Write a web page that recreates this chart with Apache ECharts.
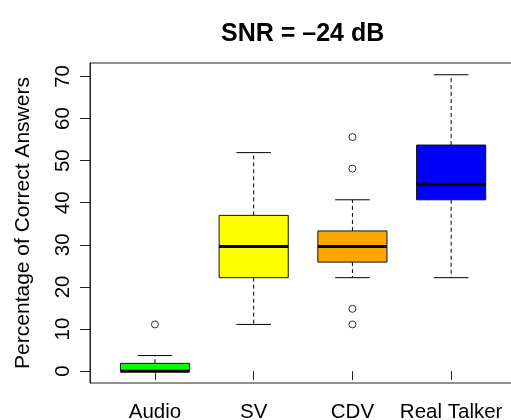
<!DOCTYPE html>
<html>
<head>
<meta charset="utf-8">
<script src="https://cdn.jsdelivr.net/npm/echarts@6/dist/echarts.min.js"></script>
<style>html,body{margin:0;padding:0;background:#fff;}#c{width:511px;height:420px;}</style>
</head>
<body>
<div id="c"></div>
<script>
var categories = ['Audio', 'SV', 'CDV', 'Real Talker'];
var whiskerLow = [0, 11.1, 22.2, 22.2];
var quart1 = [0, 22.2, 25.9, 40.7];
var medians = [0, 29.6, 29.6, 44.4];
var quart3 = [1.85, 37.0, 33.3, 53.7];
var whiskerHigh = [3.7, 51.9, 40.7, 70.4];
var outlierCat = [0, 2, 2, 2, 2];
var outlierVal = [11.1, 55.6, 48.1, 14.8, 11.1];
var yTicks = [0, 10, 20, 30, 40, 50, 60, 70];

var FONT = 'Liberation Sans, Arial, Helvetica, sans-serif';
var boxColors = ['#00FF00', '#FFFF00', '#FFA500', '#0000FF'];

var boxData = categories.map(function (c, i) {
  return [i, whiskerLow[i], quart1[i], medians[i], quart3[i], whiskerHigh[i]];
});
var outData = outlierCat.map(function (c, i) { return [c, outlierVal[i]]; });

var yMin = -2.815, yMax = 73.19;

var chart = echarts.init(document.getElementById('c'), null, {renderer: 'canvas'});
chart.setOption({
  animation: false,
  backgroundColor: '#fff',
  title: {
    text: 'SNR = \u201324 dB',
    left: 221, top: 22, padding: 0,
    textStyle: {fontFamily: FONT, fontSize: 25, fontWeight: 'bold', color: '#000'}
  },
  grid: [
    {left: 90, top: 63, width: 427, height: 320, show: true, borderColor: '#222', borderWidth: 1,
      backgroundColor: 'transparent', outerBoundsMode: 'none', containLabel: false},
    {left: 105.6, top: 63, width: 394.9, height: 320, outerBoundsMode: 'none', containLabel: false}
  ],
  xAxis: [
    {gridIndex: 0, type: 'value', min: 0, max: 1, show: false},
    {gridIndex: 1, type: 'category', data: categories, boundaryGap: true,
      axisLine: {show: false},
      axisTick: {show: true, alignWithLabel: true, length: 9, lineStyle: {color: '#222', width: 1}},
      axisLabel: {fontFamily: FONT, fontSize: 20.5, color: '#000', margin: 19, interval: 0},
      splitLine: {show: false}}
  ],
  yAxis: [
    {gridIndex: 0, type: 'value', min: yMin, max: yMax,
      name: 'Percentage of Correct Answers', nameLocation: 'middle', nameGap: 56,
      nameTextStyle: {fontFamily: FONT, fontSize: 21, color: '#000'},
      axisLine: {show: true, lineStyle: {color: '#222', width: 1}},
      axisTick: {show: true, length: 10, customValues: yTicks, lineStyle: {color: '#222', width: 1}},
      axisLabel: {customValues: yTicks, rotate: 90, fontFamily: FONT, fontSize: 20.5, color: '#000', margin: 16},
      splitLine: {show: false}},
    {gridIndex: 1, type: 'value', min: yMin, max: yMax, show: false, splitLine: {show: false}}
  ],
  series: [
    {
      type: 'custom',
      xAxisIndex: 1, yAxisIndex: 1,
      data: boxData,
      encode: {x: 0, y: [1, 2, 3, 4, 5]},
      renderItem: function (params, api) {
        var i = api.value(0);
        var band = api.size([1, 0])[0];
        var bw = band * 0.7, cw = band * 0.35;
        var pLo = api.coord([i, api.value(1)]);
        var pQ1 = api.coord([i, api.value(2)]);
        var pMd = api.coord([i, api.value(3)]);
        var pQ3 = api.coord([i, api.value(4)]);
        var pHi = api.coord([i, api.value(5)]);
        var cx = pMd[0];
        var dash = {stroke: '#000', lineWidth: 1, lineDash: [4, 3]};
        var solid = {stroke: '#000', lineWidth: 1};
        return {
          type: 'group',
          children: [
            {type: 'line', shape: {x1: cx, y1: pQ3[1], x2: cx, y2: pHi[1]}, style: dash},
            {type: 'line', shape: {x1: cx, y1: pQ1[1], x2: cx, y2: pLo[1]}, style: dash},
            {type: 'line', shape: {x1: cx - cw / 2, y1: pHi[1], x2: cx + cw / 2, y2: pHi[1]}, style: solid},
            {type: 'line', shape: {x1: cx - cw / 2, y1: pLo[1], x2: cx + cw / 2, y2: pLo[1]}, style: solid},
            {type: 'rect', shape: {x: cx - bw / 2, y: pQ3[1], width: bw, height: pQ1[1] - pQ3[1]},
              style: {fill: boxColors[params.dataIndex], stroke: '#111', lineWidth: 1}},
            {type: 'line', shape: {x1: cx - bw / 2, y1: pMd[1], x2: cx + bw / 2, y2: pMd[1]}, style: {stroke: '#000', lineWidth: 3}}
          ]
        };
      }
    },
    {
      type: 'scatter',
      xAxisIndex: 1, yAxisIndex: 1,
      data: outData,
      symbol: 'circle', symbolSize: 7,
      itemStyle: {color: '#fff', borderColor: '#000', borderWidth: 1},
      z: 5
    }
  ]
});
</script>
</body>
</html>
